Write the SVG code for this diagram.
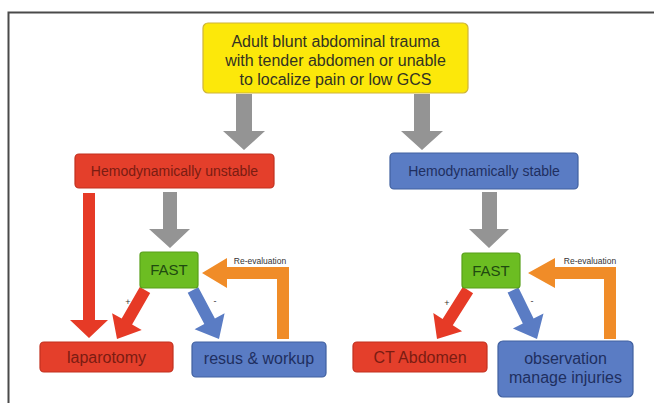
<svg xmlns="http://www.w3.org/2000/svg" width="654" height="403" viewBox="0 0 654 403">
<style>
.t{font-family:"Liberation Sans",Arial,sans-serif;text-anchor:middle}
.yel{fill:#fce80a;stroke:#cdb43a;stroke-width:1.2}
.red{fill:#e43f2b;stroke:#c2301f;stroke-width:1.2}
.blu{fill:#5a7cc4;stroke:#40609f;stroke-width:1.2}
.grn{fill:#6cbd22;stroke:#58a01a;stroke-width:1.2}
.ag{fill:#949494}
.ar{fill:#e63a26}
.ab{fill:#5a7cc4}
.ao{fill:#f08c28}
.ty{fill:#333322;font-size:16px}
.tr{fill:#7a1c12;font-size:14px}
.tb{fill:#1f2f60;font-size:14px}
.tf{fill:#1f4a10;font-size:15px}
.tr2{fill:#7a1c12;font-size:16px}
.tb2{fill:#1f2f60;font-size:16px}
.small{fill:#333;font-size:8.5px}
.sign{fill:#333;font-size:9px}
</style>
<rect x="0" y="0" width="654" height="403" fill="#ffffff"/>
<path d="M8.5 403 V12.5 H654" fill="none" stroke="#4a4a4a" stroke-width="2"/>
<g id="connectors">
  <polygon class="ag" points="236,94 252,94 252,131 265,131 244,150 223,131 236,131"/>
  <polygon class="ag" points="414,94 430,94 430,131 443,131 422,150 401,131 414,131"/>
  <polygon class="ag" points="163,192 177,192 177,229 190,229 170,248 149,229 163,229"/>
  <polygon class="ag" points="482,192 497,192 497,229 509,229 489,248 469,229 482,229"/>
  <polygon class="ar" points="83,193 95,193 95,320 108,320 89,338 70,320 83,320"/>
  <polygon class="ar" points="139.8,287 121.7,318.6 112.1,313.2 117,339 141.7,330 132.1,324.6 150.2,293"/>
  <polygon class="ab" points="187.7,292.8 204.3,324.1 194.6,329.3 219,339 224.6,313.3 214.9,318.5 198.3,287.2"/>
  <polygon class="ar" points="462.9,286.8 442.6,318.9 433.3,313 437,339 462.1,331.2 452.8,325.3 473.1,293.2"/>
  <polygon class="ab" points="507.6,292.6 522.8,323.6 512.9,328.5 537,339 543.5,313.5 533.6,318.4 518.4,287.4"/>
  <polygon class="ao" points="277,339 277,279 227,279 227,288 202,273 227,258 227,267 289,267 289,339"/>
  <polygon class="ao" points="604,339 604,279 555,279 555,288 528,273 555,258 555,267 616,267 616,339"/>
  <text class="t small" x="260" y="264">Re-evaluation</text>
  <text class="t small" x="590" y="264">Re-evaluation</text>
  <text class="t sign" x="128" y="305">+</text>
  <text class="t sign" x="215" y="304">-</text>
  <text class="t sign" x="447" y="306">+</text>
  <text class="t sign" x="532" y="304">-</text>
</g>
<g id="trauma">
  <rect class="yel" x="203" y="23" width="265" height="70" rx="5"/>
  <text class="t ty" x="335.5" y="47">Adult blunt abdominal trauma</text>
  <text class="t ty" x="335.5" y="66">with tender abdomen or unable</text>
  <text class="t ty" x="335.5" y="85">to localize pain or low GCS</text>
</g>
<g id="unstable">
  <rect class="red" x="75" y="154" width="199" height="34" rx="4"/>
  <text class="t tr" x="174.5" y="176">Hemodynamically unstable</text>
</g>
<g id="stable">
  <rect class="blu" x="390" y="153" width="188" height="36" rx="4"/>
  <text class="t tb" x="484" y="176">Hemodynamically stable</text>
</g>
<g id="fast-left">
  <rect class="grn" x="140" y="252" width="58" height="36" rx="3"/>
  <text class="t tf" x="169" y="275">FAST</text>
</g>
<g id="fast-right">
  <rect class="grn" x="462" y="253" width="58" height="35" rx="3"/>
  <text class="t tf" x="491" y="276">FAST</text>
</g>
<g id="laparotomy">
  <rect class="red" x="40" y="342" width="133" height="30" rx="4"/>
  <text class="t tr2" x="106.5" y="363">laparotomy</text>
</g>
<g id="resus">
  <rect class="blu" x="192" y="342" width="134" height="35" rx="4"/>
  <text class="t tb2" x="259" y="364">resus &amp; workup</text>
</g>
<g id="ct">
  <rect class="red" x="353" y="342" width="134" height="30" rx="4"/>
  <text class="t tr2" x="420" y="363">CT Abdomen</text>
</g>
<g id="observation">
  <rect class="blu" x="498" y="341" width="135" height="56" rx="5"/>
  <text class="t tb2" x="565.5" y="364">observation</text>
  <text class="t tb2" x="565.5" y="383">manage injuries</text>
</g>
</svg>
